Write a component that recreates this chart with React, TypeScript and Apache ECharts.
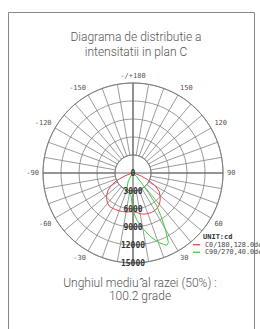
import React, { useEffect, useRef } from 'react';
import * as echarts from 'echarts';

const titleLines = ['Diagrama de distributie a', 'intensitatii in plan C'];
const footerLines = ['Unghiul mediu \u0302al razei (50%) :', '100.2 grade'];
const unitLabel = 'UNIT:cd';

const radiusTicks = [0, 3000, 6000, 9000, 12000, 15000];

const redName = 'C0/180,128.0deg';
const redAngles = [-90, -80, -75, -70, -65, -60, -55, -50, -45, -40, -35, -30, -25, -20, -15, -10, -5, 0, 5, 10, 15, 20, 25, 30, 35, 40, 45, 50, 55, 60, 65, 70, 75, 80, 90];
const redValues = [0, 0, 500, 1600, 3000, 4200, 5100, 5700, 6200, 6600, 6800, 6800, 6750, 6700, 6650, 6600, 6500, 6450, 6600, 6900, 7100, 7200, 7250, 7250, 7100, 6850, 6400, 5900, 5300, 4300, 2800, 1500, 400, 0, 0];

const greenName = 'C90/270,40.0deg';
const greenAngles = [-50, -40, -30, -20, -10, -5, 0, 5, 10, 15, 20, 25, 27, 30, 33, 36, 38, 40, 45, 50];
const greenValues = [0, 400, 1600, 3100, 3500, 3800, 6300, 8000, 9400, 10900, 12300, 13300, 13000, 10800, 8500, 6700, 4100, 2500, 800, 0];

const toPolar = (angles: number[], values: number[]) =>
  angles.map((a, i) => [values[i], (a + 360) % 360]);

const mono = 'DejaVu Sans Mono';
const sans = 'Roboto';

export default function App() {
  const ref = useRef<HTMLDivElement>(null);
  useEffect(() => {
    if (!ref.current) return;
    const chart = echarts.init(ref.current, undefined, { renderer: 'svg' });
    const center = [133, 173];
    chart.setOption({
      animation: false,
      backgroundColor: '#fff',
      title: [
        {
          text: titleLines.join('\n'),
          left: 131,
          top: 24,
          textAlign: 'center',
          textStyle: { fontFamily: sans, fontWeight: 300, fontSize: 12, lineHeight: 15, color: '#555' },
        },
        {
          text: footerLines.join('\n'),
          left: 135,
          top: 271,
          textAlign: 'center',
          textStyle: { fontFamily: sans, fontWeight: 300, fontSize: 12, lineHeight: 13.5, color: '#555' },
        },
      ],
      legend: {
        orient: 'vertical',
        left: 193,
        top: 241,
        padding: 0,
        itemGap: 0,
        itemWidth: 7,
        itemHeight: 1.3,
        icon: 'rect',
        data: [redName, greenName],
        textStyle: { fontFamily: mono, fontSize: 6.8, lineHeight: 7.5, color: '#444' },
      },
      polar: [
        { center, radius: [18, 90] },
        { center, radius: [0, 90] },
      ],
      angleAxis: [
        {
          polarIndex: 0,
          type: 'value',
          min: 0,
          max: 360,
          interval: 10,
          startAngle: 270,
          clockwise: false,
          axisLine: { show: true, lineStyle: { color: '#808080', width: 1 } },
          axisTick: { show: false },
          splitLine: { show: true, lineStyle: { color: '#828282', width: 0.8 } },
          axisLabel: {
            show: true,
            margin: 4,
            fontFamily: mono,
            fontSize: 7,
            color: '#555',
            formatter: (v: number) => {
              if (v % 30 !== 0 || v === 0 || v === 360) return '';
              if (v === 180) return '-/+180';
              return String(v < 180 ? v : v - 360);
            },
          },
        },
        {
          polarIndex: 1,
          type: 'value',
          min: 0,
          max: 360,
          interval: 90,
          startAngle: 270,
          clockwise: false,
          axisLine: { show: false },
          axisTick: { show: false },
          axisLabel: { show: false },
          splitLine: { show: true, lineStyle: { color: '#606060', width: 1.1 } },
        },
      ],
      radiusAxis: [
        {
          polarIndex: 0,
          type: 'value',
          min: 3000,
          max: 15000,
          interval: 3000,
          axisLine: { show: false },
          axisTick: { show: false },
          axisLabel: { show: false },
          splitLine: { show: true, lineStyle: { color: '#828282', width: 0.8 } },
        },
        {
          polarIndex: 1,
          type: 'value',
          min: radiusTicks[0],
          max: radiusTicks[radiusTicks.length - 1],
          interval: radiusTicks[1] - radiusTicks[0],
          axisLine: { show: false },
          axisTick: { show: false },
          splitLine: { show: false },
          z: 10,
          axisLabel: {
            show: true,
            margin: 0,
            align: 'center',
            verticalAlign: 'middle',
            padding: [0, 0, 4, 0],
            fontFamily: mono,
            fontWeight: 'bold',
            fontSize: 8,
            color: '#333',
            formatter: (v: number) => String(v),
          },
        },
      ],
      series: [
        {
          name: redName,
          type: 'line',
          coordinateSystem: 'polar',
          polarIndex: 1,
          symbol: 'none',
          data: toPolar(redAngles, redValues),
          lineStyle: { color: '#e0474c', width: 1 },
          itemStyle: { color: '#e0474c' },
        },
        {
          name: greenName,
          type: 'line',
          coordinateSystem: 'polar',
          polarIndex: 1,
          symbol: 'none',
          data: toPolar(greenAngles, greenValues),
          lineStyle: { color: '#3ad13a', width: 1 },
          itemStyle: { color: '#3ad13a' },
        },
      ],
      graphic: [
        {
          type: 'rect',
          shape: { x: 8.5, y: 12.5, width: 246, height: 340 },
          style: { fill: 'none', stroke: '#888', lineWidth: 1 },
          silent: true,
        },
        {
          type: 'text',
          x: 203,
          y: 237,
          style: {
            text: unitLabel,
            fontFamily: mono,
            fontWeight: 'bold',
            fontSize: 7,
            fill: '#333',
            verticalAlign: 'middle',
          },
        },
      ],
    });
    return () => chart.dispose();
  }, []);
  return <div ref={ref} style={{ position: 'fixed', left: 0, top: 0, width: 260, height: 329 }} />;
}
